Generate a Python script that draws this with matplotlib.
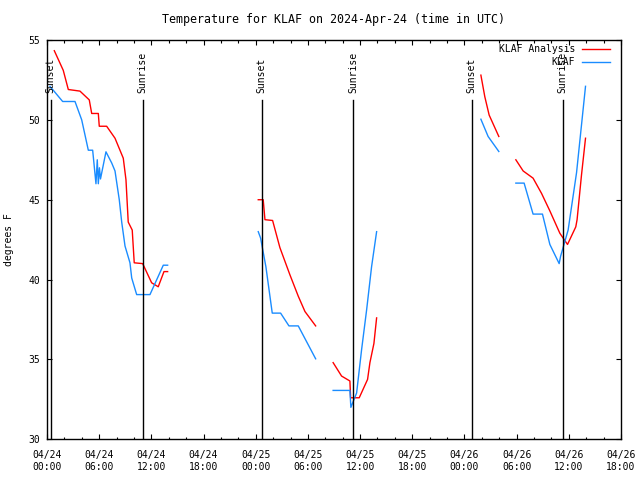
import numpy as np
import matplotlib
matplotlib.use("Agg")
import matplotlib.pyplot as plt

nan = np.nan

# hours after 2024-04-24 00:00 UTC, NaN marks a gap in the record
hours = [0.34, 0.84, 1.8, 1.87, 2.45, 3.22, 3.79, 3.99, 4.75, 4.86, 5.14, 5.25, 5.63, 5.78,
         5.9, 6.01, 6.03, 6.15, 6.78, 6.86, 7.44, 7.82, 8.01, 8.31, 8.59, 8.77, 8.97, 9.08,
         9.34, 9.54, 9.74, 9.8, 10.03, 10.31, 11.0, 11.84, 12.03, 12.79, 13.37, 13.45, 13.87]

analysis_t = [nan, 54.33, nan, 53.1, 51.9, nan, 51.8, nan, nan, 51.25, 50.4, nan, nan, nan,
              50.4, 49.6, nan, nan, nan, 49.6, nan, 48.85, nan, nan, nan, 47.6, nan, 46.25,
              43.6, nan, nan, 43.1, 41.05, nan, 41.0, nan, 39.8, 39.55, nan, 40.5, 40.5]
obs_t = [52.1, nan, 51.15, nan, nan, 51.15, nan, 50.0, 48.1, nan, nan, 48.1, 46.0, 47.5,
         46.0, nan, 47.0, 46.3, 48.0, nan, 47.3, 46.8, 46.1, 45.0, 43.6, nan, 42.1, nan,
         nan, 41.05, 40.1, nan, nan, 39.06, nan, 39.06, nan, nan, 40.9, nan, 40.9]

hours2 = [24.29, 24.56, 24.86, 25.06, 25.17, 25.9, 25.94, 26.78, 26.86, 27.82, 27.93, 28.89,
          29.66, 30.89, 31.9, 32.9, 33.87, 34.83, 34.91, 34.94, 35.6, 35.9, 36.17, 36.75,
          36.86, 37.13, 37.32, 37.59, 37.9]
analysis_t2 = [45.0, nan, 45.0, 43.75, nan, nan, 43.7, 42.0, nan, nan, 40.3, 38.96,
               38.0, 37.1, nan, 34.8, 33.96, 33.65, 32.6, nan, nan, 32.6, nan, nan,
               33.75, 34.8, nan, 36.0, 37.6]
obs_t2 = [43.0, 42.6, nan, nan, 40.8, 37.9, nan, nan, 37.9, 37.1, nan, 37.1,
          nan, 35.04, nan, 33.06, nan, 33.06, nan, 32.0, 32.9, nan, 35.6, 38.1,
          nan, nan, 40.8, nan, 43.0]

hours3 = [49.89, 50.34, 50.72, 50.84, 51.95, 52.9, 53.91, 54.75, 54.86, 55.89, 56.86, 56.97,
          57.82, 58.89, 58.97, 59.05, 59.85, 59.92, 60.8, 60.89, 60.95, 61.46, 61.92]
analysis_t3 = [52.8, 51.45, nan, 50.3, 48.96, nan, 47.5, 46.8, nan, 46.35, 45.4, nan,
               44.3, nan, 42.9, nan, 42.2, nan, 43.3, nan, 43.75, 46.56, 48.85]
obs_t3 = [50.04, nan, 48.96, nan, 48.02, nan, 46.04, nan, 46.04, 44.1, nan, 44.1,
          42.2, 41.0, nan, 41.45, nan, 43.1, nan, 46.7, nan, nan, 52.1]

sunset_h = [0.43, 24.7, 48.85]
sunrise_h = [11.0, 35.2, 59.3]

tick_h = list(range(0, 67, 6))
tick_labels = ["04/24\n00:00", "04/24\n06:00", "04/24\n12:00", "04/24\n18:00",
               "04/25\n00:00", "04/25\n06:00", "04/25\n12:00", "04/25\n18:00",
               "04/26\n00:00", "04/26\n06:00", "04/26\n12:00", "04/26\n18:00"]


def series(xs, ys):
    # keep only the points that were read for this series
    x = np.array(xs, float)
    y = np.array(ys, float)
    ok = ~np.isnan(y)
    return x[ok], y[ok]


plt.rcParams['font.family'] = ['DejaVu Sans Mono']
plt.rcParams['font.size'] = 7

fig = plt.figure(figsize=(6.4, 4.8), dpi=100)
ax = fig.add_axes([47 / 640, 1 - 439.3 / 480, 574 / 640, 399.3 / 480])

red = '#ff0000'
blue = '#1a8cff'

# draw each segment separately so the gaps stay open
gaps = [(hours, analysis_t, obs_t, None),
        (hours2, analysis_t2, obs_t2, 31.9),
        (hours3, analysis_t3, obs_t3, 52.9)]
first = True
for hs, a, o, cut in gaps:
    for vals, col, lab in ((a, red, 'KLAF Analysis'), (o, blue, 'KLAF')):
        x, y = series(hs, vals)
        if cut is None:
            parts = [(x, y)]
        else:
            parts = [(x[x < cut], y[x < cut]), (x[x > cut], y[x > cut])]
        for i, (px, py) in enumerate(parts):
            ax.plot(px, py, color=col, lw=1.0,
                    label=lab if (first and i == 0) else None)
    first = False

for h in sunset_h:
    ax.plot([h, h], [30, 51.27], color='black', lw=1.0)
    ax.text(h, 51.7, 'Sunset', rotation=90, ha='center', va='bottom')
for h in sunrise_h:
    ax.plot([h, h], [30, 51.27], color='black', lw=1.0)
    ax.text(h, 51.7, 'Sunrise', rotation=90, ha='center', va='bottom')

ax.set_xlim(0, 66)
ax.set_ylim(30, 55)
ax.set_xticks(tick_h)
ax.set_xticklabels(tick_labels)
ax.set_xticks(range(0, 67, 2), minor=True)
ax.set_yticks([30, 35, 40, 45, 50, 55])
ax.tick_params(which='both', direction='in', top=True, right=True)
ax.tick_params(which='major', length=3.5, width=0.8, pad=5)
ax.tick_params(axis='x', which='major', pad=8)
ax.tick_params(which='minor', length=1.8, width=0.8)
for s in ax.spines.values():
    s.set_linewidth(1.0)

ax.set_ylabel('degrees F', labelpad=10)
ax.set_title('Temperature for KLAF on 2024-Apr-24 (time in UTC)', pad=12)

ax.legend(loc='upper right', bbox_to_anchor=(0.981, 0.99), frameon=False,
          markerfirst=False, handlelength=2.9, handletextpad=0.7,
          labelspacing=0.35, borderpad=0, borderaxespad=0)

fig.savefig('out.png', dpi=100)
